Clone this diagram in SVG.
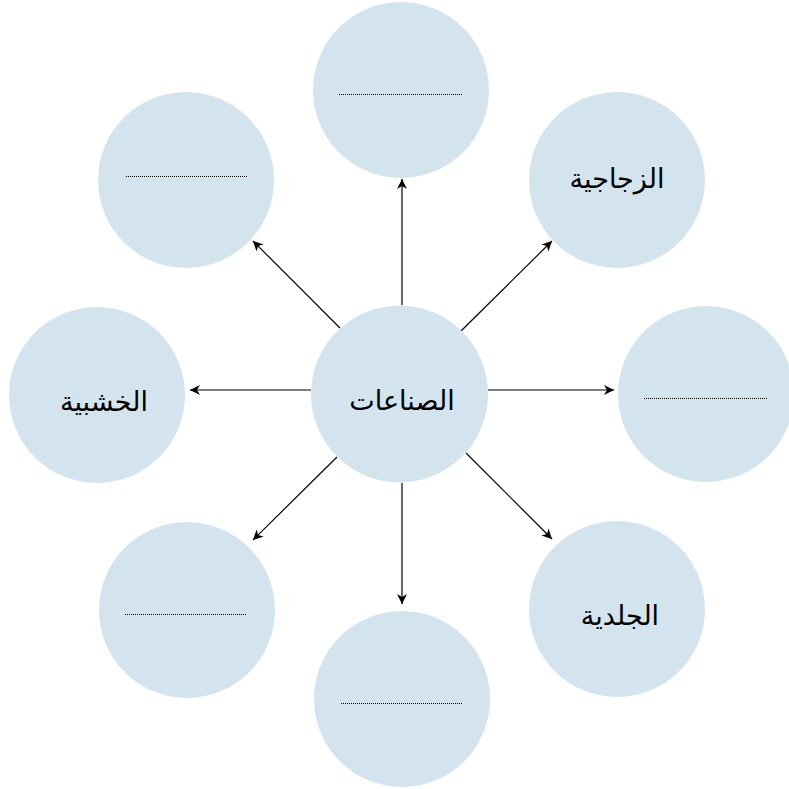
<svg xmlns="http://www.w3.org/2000/svg" width="789" height="789" viewBox="0 0 789 789">
<style>
.c{fill:#d4e4ee;}
.t{font-family:"DejaVu Sans",sans-serif;font-size:27px;fill:#000;text-anchor:middle;}
.d{stroke:#000;stroke-width:1;stroke-dasharray:1,1;}
.a{stroke:#000;stroke-width:1.2;fill:none;marker-end:url(#ah);}
</style>
<defs>
<marker id="ah" markerWidth="12" markerHeight="10" refX="10" refY="5" orient="auto" markerUnits="userSpaceOnUse">
<path d="M0,0 L10,5 L0,10 L3,5 Z" fill="#000"/>
</marker>
</defs>
<rect width="789" height="789" fill="#fff"/>
<g id="connectors">
<line class="a" x1="402" y1="305" x2="402" y2="179"/>
<line class="a" x1="461" y1="331" x2="552" y2="241"/>
<line class="a" x1="488" y1="390" x2="614" y2="390"/>
<line class="a" x1="466" y1="453" x2="552" y2="539"/>
<line class="a" x1="402" y1="483" x2="402" y2="604"/>
<line class="a" x1="337" y1="457" x2="253" y2="540"/>
<line class="a" x1="311" y1="390" x2="190" y2="390"/>
<line class="a" x1="340" y1="328" x2="253" y2="241"/>
</g>
<g id="center"><circle class="c" cx="399.5" cy="394" r="88.5"/><text class="t" x="402" y="410">الصناعات</text></g>
<g id="top"><circle class="c" cx="401" cy="90" r="88"/><line class="d" x1="339" y1="94.5" x2="462" y2="94.5"/></g>
<g id="topright"><circle class="c" cx="617" cy="180" r="88"/><text class="t" x="617" y="188">الزجاجية</text></g>
<g id="right"><circle class="c" cx="706" cy="394" r="88"/><line class="d" x1="644" y1="398.5" x2="767" y2="398.5"/></g>
<g id="bottomright"><circle class="c" cx="617" cy="609" r="88"/><text class="t" x="620" y="625">الجلدية</text></g>
<g id="bottom"><circle class="c" cx="402" cy="699" r="88"/><line class="d" x1="341" y1="703.5" x2="463" y2="703.5"/></g>
<g id="bottomleft"><circle class="c" cx="187" cy="610" r="88"/><line class="d" x1="125" y1="614.5" x2="247" y2="614.5"/></g>
<g id="left"><circle class="c" cx="97" cy="395" r="88"/><text class="t" x="104" y="411">الخشبية</text></g>
<g id="topleft"><circle class="c" cx="186" cy="180" r="88"/><line class="d" x1="126" y1="176.5" x2="248" y2="176.5"/></g>
</svg>
